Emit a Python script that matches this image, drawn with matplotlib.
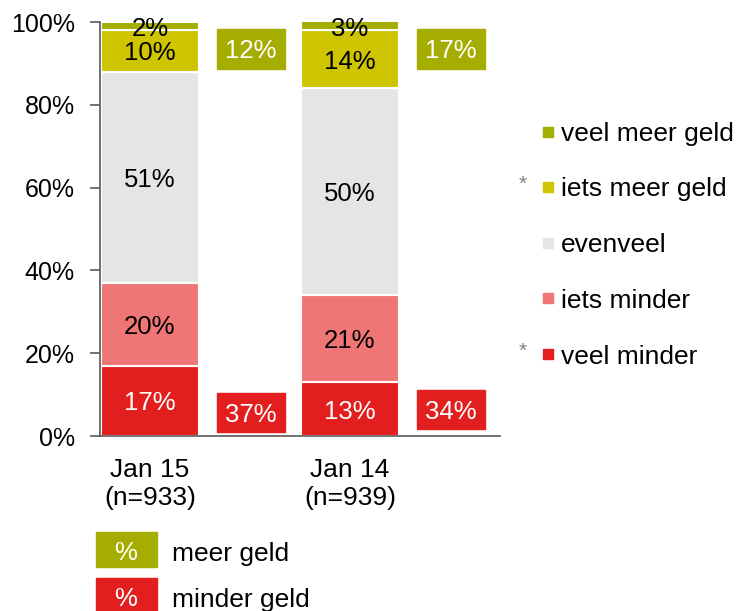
import matplotlib
matplotlib.use("Agg")
import matplotlib.pyplot as plt
from matplotlib.patches import Rectangle

plt.rcParams['font.family'] = ['Liberation Sans', 'DejaVu Sans']

# survey answers per wave, stacked bottom-up
periods = ["Jan 15\n(n=933)", "Jan 14\n(n=939)"]
veel_minder = [17, 13]
iets_minder = [20, 21]
evenveel = [51, 50]
iets_meer = [10, 14]
veel_meer = [2, 3]

series_names = ["veel minder", "iets minder", "evenveel", "iets meer geld", "veel meer geld"]
series_colors = ["#E21E1E", "#F07676", "#E7E5E3", "#CFC400", "#A5AD00"]
label_colors = ["white", "black", "black", "black", "black"]
starred = ["veel minder", "iets meer geld"]

summary_names = ["meer geld", "minder geld"]

W, H = 738, 611
FS = 18.5


def px(x, y):
    """pixel position -> figure fraction"""
    return x / W, 1 - y / H


fig = plt.figure(figsize=(W / 100, H / 100), dpi=100)
ax = fig.add_axes([100 / W, 1 - 436 / H, 400 / W, 414 / H])

bar_x = [0, 2]
box_x = [1, 3]
series = [veel_minder, iets_minder, evenveel, iets_meer, veel_meer]

bottoms = [0, 0]
for vals, col, tcol in zip(series, series_colors, label_colors):
    ax.bar(bar_x, vals, width=0.98, bottom=bottoms, color=col,
           edgecolor="white", linewidth=1.5)
    for x, b, v in zip(bar_x, bottoms, vals):
        ax.text(x, min(b + v / 2, 98.8), f"{v}%", ha="center", va="center_baseline",
                color=tcol, fontsize=FS)
    bottoms = [b + v for b, v in zip(bottoms, vals)]

# net totals beside each bar
more_tot = [a + b for a, b in zip(iets_meer, veel_meer)]
less_tot = [a + b for a, b in zip(iets_minder, veel_minder)]
more_y = [93.5, 93.5]
less_y = [5.6, 6.3]
for x, tot, yc in zip(box_x, more_tot, more_y):
    ax.add_patch(Rectangle((x - 0.33, yc - 4.8), 0.68, 9.6, color="#A5AD00"))
    ax.text(x + 0.01, yc, f"{tot}%", ha="center", va="center_baseline",
            color="white", fontsize=FS)
for x, tot, yc in zip(box_x, less_tot, less_y):
    ax.add_patch(Rectangle((x - 0.33, yc - 4.7), 0.68, 9.4, color="#E21E1E"))
    ax.text(x + 0.01, yc, f"{tot}%", ha="center", va="center_baseline",
            color="white", fontsize=FS)

ax.set_xlim(-0.5, 3.5)
ax.set_ylim(0, 100)
ax.set_yticks(range(0, 101, 20))
ax.set_yticklabels([f"{t}%" for t in range(0, 101, 20)], fontsize=18)
ax.set_xticks(bar_x)
ax.set_xticklabels(periods, fontsize=19, linespacing=1.2)
ax.tick_params(axis="x", length=0, pad=16)
ax.tick_params(axis="y", length=7, width=1.2, color="#595959", pad=11)
for s in ["top", "right"]:
    ax.spines[s].set_visible(False)
for s in ["left", "bottom"]:
    ax.spines[s].set_color("#595959")
    ax.spines[s].set_linewidth(1.2)

# legend on the right, top entry first
row_y = [132, 187, 243, 298, 354]
for name, col, y in zip(series_names[::-1], series_colors[::-1], row_y):
    x0, y0 = px(543, y + 5)
    fig.add_artist(Rectangle((x0, y0), 10 / W, 10 / H, color=col,
                             transform=fig.transFigure))
    fig.text(*px(561, y), name, ha="left", va="center_baseline", fontsize=19)
    if name in starred:
        fig.text(*px(523, y - 3), "*", ha="center", va="center",
                 fontsize=15, color="#7F7F7F")

# key for the total boxes
key_colors = ["#A5AD00", "#E21E1E"]
key_top = [532, 578]
for name, col, top in zip(summary_names, key_colors, key_top):
    x0, y0 = px(96, top + 35)
    fig.add_artist(Rectangle((x0, y0), 61 / W, 35 / H, color=col,
                             transform=fig.transFigure))
    fig.text(*px(126, top + 19), "%", ha="center", va="center_baseline",
             color="white", fontsize=FS)
    fig.text(*px(172, top + 20), name, ha="left", va="center_baseline", fontsize=19)

fig.savefig("out.png", dpi=100)
